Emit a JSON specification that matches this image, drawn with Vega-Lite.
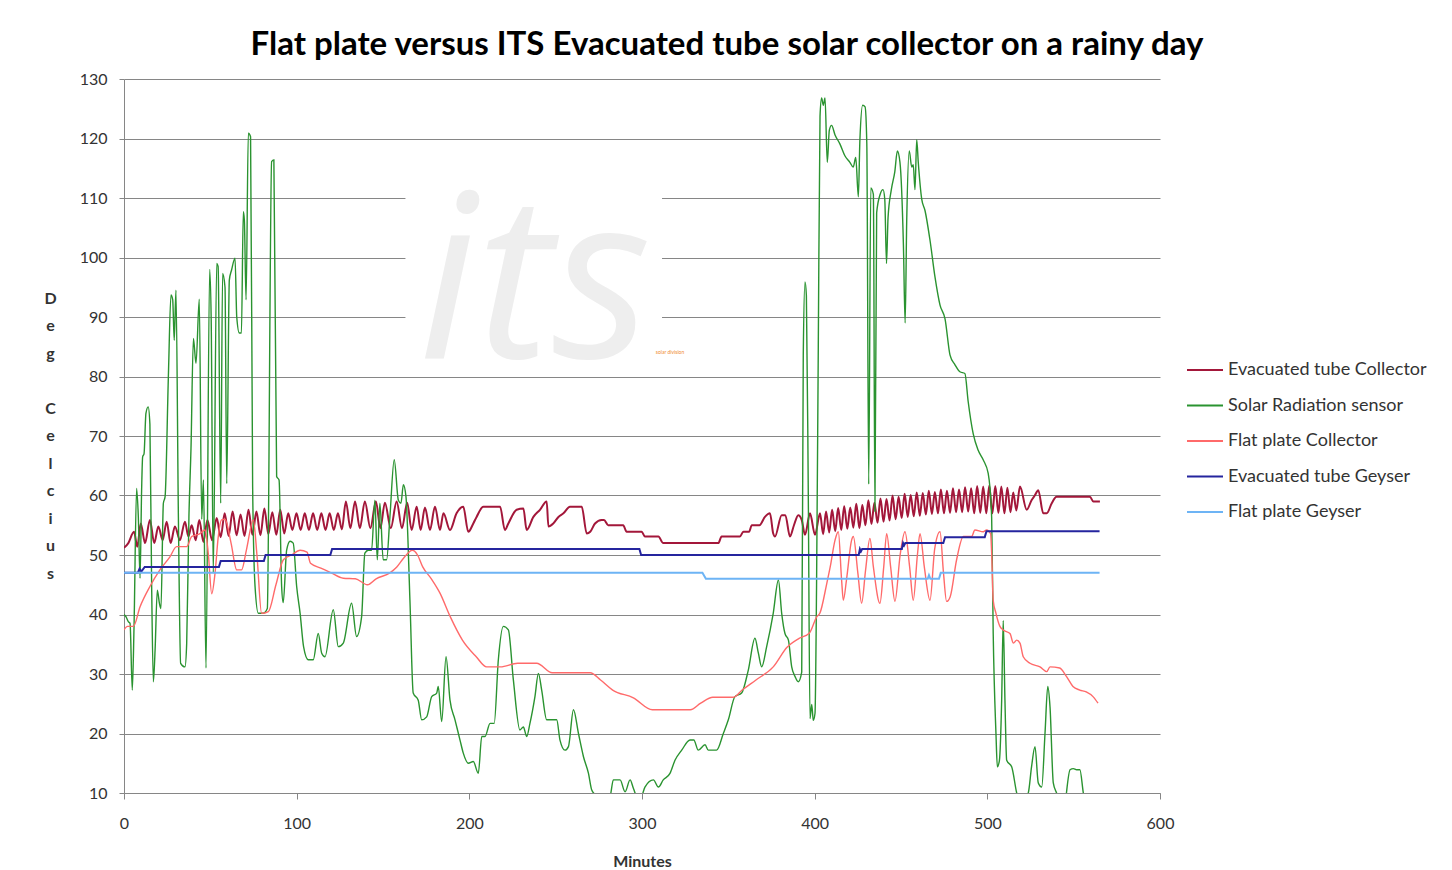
{
"$schema": "https://vega.github.io/schema/vega-lite/v6.json",
"width": 1036, "height": 714,
"autosize": {"type": "none"},
"padding": {"left": 124, "top": 79, "right": 292, "bottom": 77},
"background": "white",
"config": {"font": "Lato", "view": {"stroke": null}},
"title": {"text": "Flat plate versus ITS Evacuated tube solar collector on a rainy day", "fontSize": 33, "font": "Lato", "fontWeight": "bold", "color": "#000000", "anchor": "middle", "dx": 85, "offset": 9},
"datasets": {
"wm": [{"t": 163, "t2": 311.6, "v": 111.3, "v2": 81.9}],
"wmt": [{"t": 238, "v": 83.1, "label": "its"}],
"wms": [{"t": 308, "v": 84.2, "label": "solar division"}],
"etc": [{"t":0,"v":51.2},{"t":2.5,"v":52},{"t":5.8,"v":53.9},{"t":7.7,"v":51.4},{"t":9.7,"v":55.3},{"t":12.2,"v":52},{"t":15,"v":55.9},{"t":17.5,"v":52},{"t":19.9,"v":54.8},{"t":22.4,"v":52.5},{"t":24.7,"v":55.6},{"t":27,"v":52},{"t":29.5,"v":54.8},{"t":32.4,"v":52.5},{"t":35.3,"v":55.6},{"t":37.3,"v":53.1},{"t":39.2,"v":55},{"t":41.5,"v":52.5},{"t":43.6,"v":55.9},{"t":46,"v":52.2},{"t":48.3,"v":55.9},{"t":51,"v":52.5},{"t":53.7,"v":56.2},{"t":56,"v":53},{"t":58.3,"v":57},{"t":60.6,"v":53.2},{"t":62.9,"v":57.3},{"t":65.2,"v":53.3},{"t":67.5,"v":56.8},{"t":69.8,"v":53.2},{"t":72.1,"v":57.6},{"t":74.4,"v":53.4},{"t":76.7,"v":57.3},{"t":79,"v":53.3},{"t":81.3,"v":57.8},{"t":83.6,"v":53.5},{"t":85.9,"v":57.2},{"t":88.2,"v":53.4},{"t":90.5,"v":57.6},{"t":92.8,"v":53.6},{"t":95.1,"v":57},{"t":97.5,"v":54.2},{"t":99.9,"v":57},{"t":102.3,"v":54.2},{"t":104.7,"v":57},{"t":107.1,"v":54.2},{"t":109.5,"v":57},{"t":111.9,"v":54.2},{"t":114.3,"v":57},{"t":116.7,"v":54.2},{"t":119.1,"v":57},{"t":121.5,"v":54.2},{"t":123.9,"v":57},{"t":126.2,"v":54.3},{"t":128.5,"v":59},{"t":131.1,"v":54.5},{"t":133.8,"v":59},{"t":136.6,"v":54.5},{"t":139.5,"v":59},{"t":142.7,"v":54.5},{"t":145.9,"v":59},{"t":148.5,"v":54.5},{"t":151.1,"v":58.8},{"t":154.5,"v":54.5},{"t":157.9,"v":59},{"t":161,"v":54.5},{"t":164,"v":58.8},{"t":166.6,"v":54.2},{"t":169.5,"v":58.1},{"t":171.8,"v":54.2},{"t":174.3,"v":58},{"t":177.2,"v":54.2},{"t":180.1,"v":58.1},{"t":183,"v":54.2},{"t":185,"v":57},{"t":188.8,"v":54.2},{"t":192.6,"v":57},{"t":196.5,"v":58.1},{"t":199.4,"v":53.9},{"t":202.3,"v":55.3},{"t":204.2,"v":56.4},{"t":208.1,"v":58.1},{"t":217.8,"v":58.1},{"t":220.6,"v":54.2},{"t":222.6,"v":55.3},{"t":227.4,"v":57.6},{"t":231.3,"v":57.8},{"t":233.2,"v":54.2},{"t":237.1,"v":56.4},{"t":240.9,"v":57.6},{"t":244.8,"v":59},{"t":245.8,"v":54.8},{"t":248.6,"v":55.3},{"t":251.6,"v":56.4},{"t":254.5,"v":57},{"t":258.3,"v":58.1},{"t":265.1,"v":58.1},{"t":268,"v":53.6},{"t":270,"v":53.9},{"t":272.8,"v":55.3},{"t":276.6,"v":55.9},{"t":278,"v":55.9},{"t":280.4,"v":55},{"t":289.1,"v":55},{"t":291.1,"v":53.9},{"t":299.8,"v":53.9},{"t":301.7,"v":53.1},{"t":309.5,"v":53.1},{"t":312.3,"v":52},{"t":344.2,"v":52},{"t":346.1,"v":53.1},{"t":356.7,"v":53.1},{"t":358.7,"v":53.9},{"t":362,"v":53.9},{"t":363.6,"v":55},{"t":368,"v":55},{"t":371.2,"v":56.4},{"t":374.1,"v":57},{"t":376,"v":53.6},{"t":377,"v":53.1},{"t":380.9,"v":56.7},{"t":383,"v":56.7},{"t":385.7,"v":53.1},{"t":388,"v":55},{"t":390.5,"v":56.7},{"t":392.5,"v":55.9},{"t":394.4,"v":53.4},{"t":397.3,"v":57},{"t":400.2,"v":53.4},{"t":403.1,"v":57},{"t":404.9,"v":53.5},{"t":406.6,"v":57.3},{"t":408.4,"v":53.8},{"t":410.1,"v":57.6},{"t":411.9,"v":54},{"t":413.6,"v":57.9},{"t":415.4,"v":54.2},{"t":417.1,"v":58.2},{"t":418.9,"v":54.4},{"t":420.6,"v":58},{"t":422.4,"v":54.6},{"t":424.1,"v":58.6},{"t":425.9,"v":54.5},{"t":427.6,"v":58.4},{"t":429.4,"v":55},{"t":431.1,"v":59.2},{"t":432.9,"v":55.2},{"t":434.6,"v":58.8},{"t":436.4,"v":55.4},{"t":438.1,"v":59.5},{"t":439.9,"v":55.6},{"t":441.6,"v":59.4},{"t":443.4,"v":55.8},{"t":445.1,"v":60},{"t":446.9,"v":56},{"t":448.6,"v":59.8},{"t":450.4,"v":56.2},{"t":452.1,"v":60.3},{"t":453.9,"v":56.4},{"t":455.6,"v":60.1},{"t":457.4,"v":56.5},{"t":459.1,"v":60.5},{"t":460.9,"v":56.6},{"t":462.6,"v":60.4},{"t":464.4,"v":56.8},{"t":466.1,"v":60.8},{"t":467.9,"v":56.9},{"t":469.6,"v":60.6},{"t":471.4,"v":57},{"t":473.1,"v":61},{"t":474.9,"v":57},{"t":476.6,"v":60.8},{"t":478.4,"v":57.1},{"t":480.1,"v":61.2},{"t":481.9,"v":57.2},{"t":483.6,"v":61},{"t":485.4,"v":57.2},{"t":487.1,"v":61.4},{"t":488.9,"v":57.3},{"t":490.6,"v":61.2},{"t":492.4,"v":57},{"t":494.1,"v":61.6},{"t":495.9,"v":57.1},{"t":497.6,"v":61.5},{"t":499.4,"v":57},{"t":501.1,"v":61.7},{"t":502.9,"v":57},{"t":504.6,"v":61.6},{"t":506.4,"v":57.1},{"t":508.1,"v":61.5},{"t":509.9,"v":57},{"t":511.6,"v":61.3},{"t":513.4,"v":57.2},{"t":515,"v":60.5},{"t":516.8,"v":57.5},{"t":518.9,"v":61.5},{"t":522.8,"v":57.6},{"t":525.6,"v":59.2},{"t":527.5,"v":60},{"t":529.5,"v":60.9},{"t":532.4,"v":57},{"t":534.4,"v":57},{"t":537.3,"v":58.7},{"t":540.1,"v":59.8},{"t":559.4,"v":59.8},{"t":561.4,"v":59},{"t":565.2,"v":59}],
"sol": [{"t":0,"v":40},{"t":1.2,"v":39.6},{"t":2.5,"v":38.8},{"t":3.5,"v":38.5},{"t":4.8,"v":27.3},{"t":5.8,"v":37.8},{"t":7.3,"v":61.2},{"t":8.3,"v":56.4},{"t":9.3,"v":46.1},{"t":10.2,"v":60.9},{"t":10.8,"v":66.5},{"t":11.6,"v":67},{"t":12.7,"v":73.8},{"t":14,"v":74.9},{"t":15,"v":72},{"t":16,"v":45.2},{"t":17,"v":28.7},{"t":18,"v":34},{"t":19.3,"v":44.1},{"t":20.5,"v":41.9},{"t":21.4,"v":41},{"t":22.8,"v":58.7},{"t":23.8,"v":59.8},{"t":25.7,"v":80},{"t":27.2,"v":93.7},{"t":28.2,"v":92.9},{"t":29.1,"v":86.1},{"t":30.1,"v":94.5},{"t":31.5,"v":56.4},{"t":32.8,"v":31.8},{"t":35.3,"v":31.2},{"t":36.3,"v":35.1},{"t":37.6,"v":56.4},{"t":38.8,"v":67.9},{"t":40.2,"v":86.4},{"t":41.7,"v":82.2},{"t":43.6,"v":93},{"t":45,"v":56},{"t":46,"v":62.6},{"t":47.5,"v":31},{"t":49.6,"v":98},{"t":50.5,"v":89.5},{"t":51.7,"v":47},{"t":53.7,"v":99},{"t":54.5,"v":98.5},{"t":56,"v":58.7},{"t":57.1,"v":97.3},{"t":58.5,"v":95},{"t":59.5,"v":62},{"t":61,"v":96.2},{"t":62.3,"v":97.9},{"t":64.3,"v":99.9},{"t":65.3,"v":90},{"t":66.8,"v":87.3},{"t":68,"v":87.3},{"t":69.1,"v":107.7},{"t":69.7,"v":106.3},{"t":70.7,"v":92.9},{"t":72,"v":120.9},{"t":73.3,"v":120.3},{"t":74.5,"v":61.5},{"t":75.9,"v":44.7},{"t":77.8,"v":40.2},{"t":80.6,"v":40.2},{"t":83,"v":41},{"t":85.5,"v":116.1},{"t":86.8,"v":116.4},{"t":88.4,"v":63.2},{"t":89.8,"v":62.6},{"t":91.3,"v":44.7},{"t":92.2,"v":42},{"t":94.2,"v":50.8},{"t":96.2,"v":52.3},{"t":98,"v":52},{"t":100,"v":44.7},{"t":102,"v":40.2},{"t":104,"v":34.6},{"t":106.7,"v":32.4},{"t":109.6,"v":32.4},{"t":112.5,"v":36.8},{"t":114.5,"v":33.5},{"t":116.4,"v":32.9},{"t":121.2,"v":40.8},{"t":124.1,"v":34.6},{"t":127,"v":35.2},{"t":131.8,"v":41.9},{"t":134.7,"v":36.3},{"t":137.6,"v":39.6},{"t":139.5,"v":50.3},{"t":141.5,"v":50.8},{"t":143.4,"v":50.8},{"t":145.3,"v":59.2},{"t":146.7,"v":49.2},{"t":148.2,"v":58.7},{"t":150.1,"v":49.2},{"t":152.1,"v":49.2},{"t":154,"v":56.4},{"t":156.5,"v":66},{"t":158.9,"v":59.2},{"t":160.4,"v":58.7},{"t":161.8,"v":61.8},{"t":163.3,"v":59.8},{"t":165.6,"v":42.4},{"t":167.5,"v":26.8},{"t":170.4,"v":25.6},{"t":172.4,"v":22.3},{"t":175.3,"v":22.8},{"t":178.2,"v":26.2},{"t":181.1,"v":26.8},{"t":182,"v":27.9},{"t":184,"v":22},{"t":186.5,"v":32.9},{"t":188.8,"v":25.6},{"t":191.7,"v":22.3},{"t":194.6,"v":18.9},{"t":196.5,"v":16.7},{"t":199.4,"v":15},{"t":202.3,"v":15.3},{"t":205.2,"v":13.3},{"t":207.2,"v":19.5},{"t":209.1,"v":19.5},{"t":212,"v":21.7},{"t":214.4,"v":21.7},{"t":216.8,"v":32.4},{"t":219.7,"v":38},{"t":222.6,"v":37.4},{"t":225.5,"v":29},{"t":229.3,"v":20.6},{"t":231.3,"v":21.1},{"t":233.2,"v":19.5},{"t":235.1,"v":21.7},{"t":238,"v":26.2},{"t":240,"v":30.1},{"t":241.9,"v":27.3},{"t":244.8,"v":22.3},{"t":250.6,"v":22.3},{"t":252.5,"v":18.9},{"t":255.4,"v":17.2},{"t":257.4,"v":17.8},{"t":260.3,"v":24},{"t":263.2,"v":20},{"t":266.1,"v":16.1},{"t":269,"v":13.3},{"t":270.9,"v":10.5},{"t":273.8,"v":9.5},{"t":278,"v":8.5},{"t":281.5,"v":9.4},{"t":283.4,"v":12.2},{"t":287.3,"v":12.2},{"t":290.2,"v":10.2},{"t":293.1,"v":12.2},{"t":295,"v":10.8},{"t":298,"v":8.8},{"t":299.8,"v":9.4},{"t":301.7,"v":11},{"t":306.6,"v":12.2},{"t":309.5,"v":11},{"t":312.3,"v":12.2},{"t":316.2,"v":13.3},{"t":319.1,"v":15.5},{"t":323,"v":17.2},{"t":327.8,"v":18.9},{"t":330,"v":18.9},{"t":332.6,"v":17.2},{"t":336.5,"v":18.1},{"t":338.4,"v":17.2},{"t":343.2,"v":17.2},{"t":347.1,"v":20},{"t":350,"v":22.3},{"t":353.8,"v":26.2},{"t":357.7,"v":26.8},{"t":361.6,"v":30.7},{"t":365.4,"v":36},{"t":367.4,"v":33.5},{"t":369.3,"v":31.2},{"t":372.2,"v":34.6},{"t":376,"v":40.2},{"t":379,"v":45.8},{"t":380.9,"v":40.2},{"t":382.8,"v":36.8},{"t":384.8,"v":35.7},{"t":386.7,"v":31.2},{"t":388.6,"v":29.6},{"t":390.5,"v":28.7},{"t":392.5,"v":30.3},{"t":393.4,"v":83.6},{"t":394.4,"v":95.9},{"t":395.2,"v":93.6},{"t":396.3,"v":60.4},{"t":397.3,"v":22.5},{"t":398.3,"v":24.9},{"t":399.2,"v":22.2},{"t":400.2,"v":23.4},{"t":401.1,"v":45},{"t":402.1,"v":85},{"t":403.1,"v":123.7},{"t":404,"v":126.8},{"t":405,"v":125.6},{"t":406,"v":126.8},{"t":407.3,"v":116},{"t":408.5,"v":121.4},{"t":409.8,"v":122.2},{"t":411.8,"v":120.6},{"t":414.6,"v":119.1},{"t":417.5,"v":117.1},{"t":420.4,"v":116},{"t":422.3,"v":115.2},{"t":423.8,"v":116.8},{"t":425.3,"v":110.2},{"t":426.2,"v":119.8},{"t":427.8,"v":125.6},{"t":429.2,"v":125.3},{"t":430.2,"v":119.1},{"t":431.3,"v":61.9},{"t":432.5,"v":111.7},{"t":434,"v":110.6},{"t":434.9,"v":57.3},{"t":435.9,"v":107.5},{"t":437.9,"v":110.6},{"t":439.6,"v":111.4},{"t":440.6,"v":109.8},{"t":441.6,"v":99},{"t":442.5,"v":106.7},{"t":444.4,"v":111.4},{"t":446.4,"v":114.4},{"t":447.9,"v":117.9},{"t":449.4,"v":116},{"t":451.4,"v":102.1},{"t":452.4,"v":89},{"t":453.3,"v":106},{"t":454.8,"v":117.9},{"t":456.2,"v":115.2},{"t":457.1,"v":115.6},{"t":458.1,"v":111.4},{"t":459.1,"v":119.8},{"t":460,"v":116},{"t":462,"v":109.8},{"t":463.9,"v":107.9},{"t":466.8,"v":102.9},{"t":469.7,"v":96.7},{"t":472.6,"v":92},{"t":475.5,"v":89.7},{"t":478.4,"v":83.6},{"t":481.2,"v":82},{"t":484.1,"v":80.8},{"t":487,"v":80.5},{"t":488.9,"v":75.8},{"t":491.8,"v":70.4},{"t":494.7,"v":67.6},{"t":497.6,"v":66},{"t":500.5,"v":63.7},{"t":502.5,"v":56.4},{"t":503.4,"v":36.8},{"t":505,"v":20},{"t":505.8,"v":14.4},{"t":507,"v":15.5},{"t":508.3,"v":25.6},{"t":509.2,"v":39},{"t":510.2,"v":25.6},{"t":511.2,"v":15.5},{"t":514.1,"v":14.4},{"t":517,"v":10},{"t":518.9,"v":8},{"t":523.7,"v":10},{"t":525.6,"v":14.4},{"t":527.6,"v":17.8},{"t":529.5,"v":11.7},{"t":531.5,"v":11},{"t":533.4,"v":20},{"t":535,"v":27.9},{"t":536.3,"v":24.5},{"t":538.2,"v":11.7},{"t":540.1,"v":10},{"t":544,"v":7},{"t":547.9,"v":13.9},{"t":549.8,"v":14.1},{"t":551.7,"v":13.9},{"t":553.6,"v":13.9},{"t":555.6,"v":10},{"t":557,"v":8}],
"fpc": [{"t":0,"v":37.4},{"t":2,"v":38},{"t":5.4,"v":38},{"t":9.3,"v":41.3},{"t":15,"v":44.7},{"t":20.8,"v":47.5},{"t":26.6,"v":49.7},{"t":30.5,"v":51.4},{"t":36.3,"v":51.4},{"t":39.2,"v":53.1},{"t":44,"v":53.6},{"t":46.9,"v":54.2},{"t":48.8,"v":50.3},{"t":50.8,"v":43.5},{"t":52.7,"v":46.9},{"t":54.6,"v":53.1},{"t":56.5,"v":55.9},{"t":58.5,"v":56},{"t":62,"v":52},{"t":65.3,"v":47.5},{"t":68.1,"v":47.5},{"t":71,"v":51},{"t":74.9,"v":55.9},{"t":77,"v":50},{"t":79.7,"v":40.2},{"t":83.6,"v":40.5},{"t":88,"v":45},{"t":92.3,"v":49.2},{"t":97,"v":50},{"t":102,"v":50.8},{"t":106,"v":50.5},{"t":108,"v":48.6},{"t":114,"v":47.8},{"t":120,"v":47},{"t":127,"v":46.1},{"t":134,"v":46},{"t":141,"v":45},{"t":146,"v":46},{"t":154,"v":47},{"t":158,"v":48},{"t":162,"v":49.5},{"t":167,"v":50.8},{"t":170,"v":50},{"t":173,"v":48},{"t":178,"v":46},{"t":183,"v":43.6},{"t":189,"v":39.6},{"t":196,"v":35.7},{"t":204,"v":32.9},{"t":210,"v":31.2},{"t":218,"v":31.2},{"t":228,"v":31.8},{"t":239,"v":31.8},{"t":248,"v":30.2},{"t":260,"v":30.2},{"t":270,"v":30.2},{"t":276,"v":29},{"t":283,"v":27.3},{"t":295,"v":26},{"t":306,"v":24},{"t":328,"v":24},{"t":334,"v":25.1},{"t":341,"v":26.1},{"t":353,"v":26.1},{"t":358,"v":27.3},{"t":366,"v":29},{"t":376,"v":31.2},{"t":384,"v":34.5},{"t":391,"v":36},{"t":397,"v":36.9},{"t":401.2,"v":39.6},{"t":403,"v":40.2},{"t":407,"v":45.2},{"t":409,"v":48},{"t":411.8,"v":52.5},{"t":413.7,"v":53.9},{"t":415.6,"v":45.8},{"t":416.6,"v":42.4},{"t":418.5,"v":46},{"t":421.4,"v":52.5},{"t":422.4,"v":53.1},{"t":425,"v":47},{"t":427.2,"v":41.9},{"t":429.5,"v":47.5},{"t":432,"v":52.8},{"t":434,"v":48},{"t":437.8,"v":41.9},{"t":440,"v":48},{"t":441.7,"v":53.6},{"t":444,"v":48},{"t":446.5,"v":42.2},{"t":449.5,"v":50},{"t":452.3,"v":53.9},{"t":455,"v":48},{"t":457.1,"v":42.4},{"t":459.5,"v":50},{"t":461,"v":53.6},{"t":463.5,"v":48},{"t":466.8,"v":42.4},{"t":469.5,"v":51},{"t":472.6,"v":53.9},{"t":474.6,"v":47},{"t":476.4,"v":42.2},{"t":478.5,"v":43},{"t":482.2,"v":49.2},{"t":486.1,"v":53.1},{"t":490.9,"v":53.1},{"t":492.8,"v":54.2},{"t":497.6,"v":53.9},{"t":499.6,"v":54.2},{"t":501.9,"v":53.6},{"t":502.5,"v":50.3},{"t":503.4,"v":42.4},{"t":505,"v":40.2},{"t":507.3,"v":38},{"t":509.2,"v":37.4},{"t":513.1,"v":36.8},{"t":515.1,"v":35.2},{"t":517,"v":35.7},{"t":518.9,"v":35.2},{"t":520.8,"v":32.9},{"t":524.7,"v":31.8},{"t":530.5,"v":31.2},{"t":534.4,"v":30.4},{"t":536.3,"v":31.2},{"t":541.9,"v":31},{"t":545.8,"v":29.6},{"t":549.6,"v":27.9},{"t":553.5,"v":27.3},{"t":557.3,"v":27},{"t":561.2,"v":26.2},{"t":564.1,"v":25.1}],
"etg": [{"t":0,"v":47},{"t":8,"v":47},{"t":9,"v":47.7},{"t":10,"v":47.2},{"t":12,"v":48},{"t":55,"v":48},{"t":56,"v":49},{"t":81,"v":49},{"t":82,"v":50},{"t":119.5,"v":50},{"t":120.5,"v":51},{"t":298.5,"v":51},{"t":299.5,"v":50},{"t":425.5,"v":50},{"t":426.2,"v":51},{"t":426.8,"v":50.6},{"t":427.5,"v":51},{"t":450.5,"v":51},{"t":451.2,"v":52},{"t":451.8,"v":51.6},{"t":452.5,"v":52},{"t":474.5,"v":52},{"t":475.5,"v":53},{"t":498.5,"v":53},{"t":499.5,"v":54},{"t":565,"v":54}],
"fpg": [{"t":0,"v":47},{"t":335,"v":47},{"t":337,"v":46},{"t":465.5,"v":46},{"t":466.2,"v":46.6},{"t":467,"v":46},{"t":472,"v":46},{"t":473,"v":47},{"t":565,"v":47}]
},
"encoding": {
"x": {"field": "t", "type": "quantitative", "scale": {"domain": [0, 600]},
 "axis": {"title": "Minutes", "values": [0, 100, 200, 300, 400, 500, 600], "grid": false, "domainColor": "#868686", "tickColor": "#868686", "tickSize": 6, "labelFontSize": 16, "labelColor": "#333333", "labelPadding": 16, "labelFlush": false, "titleFontSize": 16, "titleFontWeight": "bold", "titleColor": "#333333", "titlePadding": 22}},
"y": {"field": "v", "type": "quantitative", "scale": {"domain": [10, 130]},
 "axis": {"values": [10, 20, 30, 40, 50, 60, 70, 80, 90, 100, 110, 120, 130], "grid": true, "gridColor": "#868686", "domainColor": "#868686", "tickColor": "#868686", "tickSize": 5, "labelFontSize": 16, "labelColor": "#333333", "labelPadding": 12,
 "title": ["D", "e", "g", "\u2800", "C", "e", "l", "c", "i", "u", "s"], "titleAngle": 0, "titleX": -74, "titleY": 211, "titleAlign": "center", "titleBaseline": "top", "titleLineHeight": 27.5, "titleFontSize": 16, "titleFontWeight": "bold", "titleColor": "#333333"}}
},
"layer": [
{"data": {"name": "wm"}, "mark": {"type": "rect", "color": "white"}, "encoding": {"x2": {"field": "t2"}, "y2": {"field": "v2"}}},
{"data": {"name": "wmt"}, "mark": {"type": "text", "fontSize": 230, "fontStyle": "italic", "font": "Open Sans", "color": "#eeeeee", "align": "center", "baseline": "alphabetic"}, "encoding": {"text": {"field": "label"}}},
{"data": {"name": "wms"}, "mark": {"type": "text", "fontSize": 5, "color": "#f08a30", "align": "left", "baseline": "middle"}, "encoding": {"text": {"field": "label"}}},
{"data": {"name": "etc"}, "mark": {"type": "line", "strokeWidth": 2, "clip": true, "interpolate": "monotone"},
 "encoding": {"color": {"datum": "Evacuated tube Collector", "type": "nominal",
  "scale": {"domain": ["Evacuated tube Collector", "Solar Radiation  sensor", "Flat plate Collector", "Evacuated tube Geyser", "Flat plate Geyser"], "range": ["#a3173a", "#2a9330", "#ff6a6a", "#25259e", "#6db4f5"]},
  "legend": {"orient": "none", "legendX": 1062, "legendY": 272, "title": null, "symbolType": "stroke", "symbolSize": 1296, "symbolStrokeWidth": 2, "labelFontSize": 18, "labelLimit": 400, "labelColor": "#333333", "labelOffset": 4, "rowPadding": 7.5, "padding": 0}}}},
{"data": {"name": "sol"}, "mark": {"type": "line", "strokeWidth": 1.4, "clip": true, "interpolate": "monotone"}, "encoding": {"color": {"datum": "Solar Radiation  sensor", "type": "nominal"}}},
{"data": {"name": "fpc"}, "mark": {"type": "line", "strokeWidth": 1.4, "clip": true, "interpolate": "monotone"}, "encoding": {"color": {"datum": "Flat plate Collector", "type": "nominal"}}},
{"data": {"name": "etg"}, "mark": {"type": "line", "strokeWidth": 2, "clip": true}, "encoding": {"color": {"datum": "Evacuated tube Geyser", "type": "nominal"}}},
{"data": {"name": "fpg"}, "mark": {"type": "line", "strokeWidth": 2, "clip": true}, "encoding": {"color": {"datum": "Flat plate Geyser", "type": "nominal"}}}
]
}
